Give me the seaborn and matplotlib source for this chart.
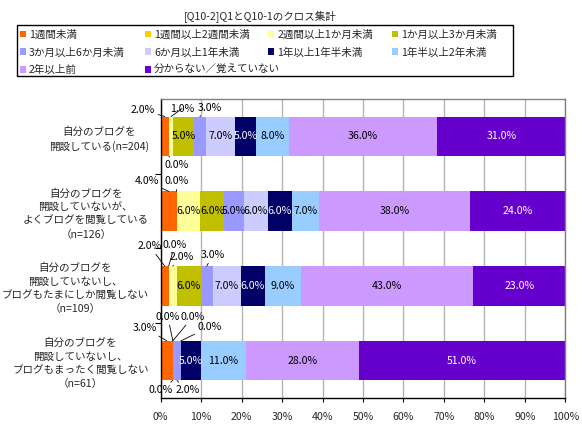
import numpy as np
import pandas as pd
import matplotlib.pyplot as plt
import seaborn as sns
from matplotlib.patches import Patch, Rectangle
from matplotlib.ticker import PercentFormatter

title = "[Q10-2]Q1とQ10-1のクロス集計"

groups = [
    "自分のブログを\n開設している(n=204)",
    "自分のブログを\n開設していないが、\nよくブログを閲覧している\n（n=126）",
    "自分のブログを\n開設していないし、\nブログもたまにしか閲覧しない\n（n=109）",
    "自分のブログを\n開設していないし、\nブログもまったく閲覧しない\n（n=61）",
]
periods = [
    "1週間未満", "1週間以上2週間未満", "2週間以上1か月未満", "1か月以上3か月未満",
    "3か月以上6か月未満", "6か月以上1年未満", "1年以上1年半未満", "1年半以上2年未満",
    "2年以上前", "分からない／覚えていない",
]

# percent of each group, in the order of periods
share_n204 = [2, 0, 1, 5, 3, 7, 5, 8, 36, 31]
share_n126 = [4, 0, 6, 6, 5, 6, 6, 7, 38, 24]
share_n109 = [2, 0, 2, 6, 3, 7, 6, 9, 43, 23]
share_n61 = [3, 0, 0, 0, 2, 0, 5, 11, 28, 51]

colors = ["#FF6600", "#FFCC00", "#FFFF99", "#C0C000", "#9999FF",
          "#CCCCFF", "#000066", "#99CCFF", "#CC99FF", "#6600CC"]
dark = {"#000066", "#6600CC"}

# small segments labelled outside the bar: (row, seg) -> pixel offset from bar edge
outside = {
    (0, 0): (-22, 7), (0, 1): (8, -9), (0, 2): (11, 8), (0, 4): (10, 9),
    (1, 0): (-22, 10), (1, 1): (0, 10),
    (2, 0): (-15, 20), (2, 1): (6, 21), (2, 2): (9, 9), (2, 4): (6, 11),
    (3, 0): (-22, 13), (3, 1): (-12, -10), (3, 2): (-5, 24), (3, 3): (20, 24),
    (3, 4): (11, -10), (3, 5): (29, 14),
}

sns.set_theme(style="white")
plt.rcParams["font.family"] = ["Noto Sans CJK JP", "DejaVu Sans"]
fs = 7.6
W, H = 582, 428

df = pd.DataFrame([share_n204, share_n126, share_n109, share_n61],
                  index=groups, columns=periods)
width = df.div(df.sum(axis=1), axis=0) * 100   # 100% stacked, like the original
cum = width.cumsum(axis=1)
start = cum - width

fig = plt.figure(figsize=(W / 100, H / 100), dpi=100)
ax = fig.add_axes([0.2761, 0.0701, 0.6952, 0.6986])
bar_h = 0.53

for i in reversed(range(len(periods))):
    sns.barplot(x=cum.iloc[:, i].values, y=groups, order=groups, orient="h",
                color=colors[i], saturation=1, width=bar_h, errorbar=None,
                linewidth=0, ax=ax)

ax.set_xlim(0, 100)
ax.set_ylim(3.5, -0.5)
ax.set_xlabel("")
ax.set_ylabel("")
ax.set_xticks(np.arange(0, 101, 10))
ax.xaxis.set_major_formatter(PercentFormatter(decimals=0))
ax.set_axisbelow(True)
ax.xaxis.grid(True, color="#b4b4b4", lw=1)

ax.tick_params(axis="x", length=3, width=0.8, color="black", direction="out",
               labelsize=fs, pad=7, bottom=True)
ax.tick_params(axis="y", which="major", length=0, labelsize=fs, pad=8.6)
ax.set_yticks([0.5, 1.5, 2.5], minor=True)
ax.tick_params(axis="y", which="minor", length=4, width=0.8, color="black",
               direction="out", left=True)
for t in ax.get_yticklabels():
    t.set_multialignment("center")
    t.set_linespacing(1.45)

for side in ["top", "right"]:
    ax.spines[side].set_color("#808080")
    ax.spines[side].set_linewidth(1)
for side in ["left", "bottom"]:
    ax.spines[side].set_color("black")
    ax.spines[side].set_linewidth(1)

# data labels
for r in range(len(groups)):
    for s in range(len(periods)):
        val = df.iloc[r, s]
        txt = f"{val:.1f}%"
        if (r, s) in outside:
            dx, dy = outside[(r, s)]
            xa = start.iloc[r, s] + width.iloc[r, s] / 2
            ya = r - bar_h / 2 if dy > 0 else r + bar_h / 2
            ax.annotate(txt, xy=(xa, ya), xytext=(dx, dy), textcoords="offset pixels",
                        ha="center", va="center", fontsize=fs, color="black",
                        arrowprops=dict(arrowstyle="-", color="black", lw=0.6,
                                        shrinkA=0, shrinkB=0))
        elif val > 0:
            xc = start.iloc[r, s] + width.iloc[r, s] / 2
            ax.text(xc, r, txt, ha="center", va="center", fontsize=fs,
                    color="white" if colors[s] in dark else "black")

fig.text(0.448, 0.963, title, ha="center", va="center", fontsize=fs)

# legend: four fixed-width columns filled row by row, inside one frame
handles = [Patch(facecolor=c, edgecolor="none") for c in colors]
col_x = [19.5, 144.5, 268, 392]
for c, x in enumerate(col_x):
    idx = list(range(c, len(periods), 4))
    leg = fig.legend([handles[i] for i in idx], [periods[i] for i in idx],
                     loc="upper left", bbox_to_anchor=(x / W, 1 - 29.5 / H),
                     bbox_transform=fig.transFigure, fontsize=fs, frameon=False,
                     handlelength=0.6, handleheight=0.6, handletextpad=0.3,
                     labelspacing=0.72, borderpad=0, borderaxespad=0)
fig.patches.append(Rectangle((17 / W, 1 - 76 / H), 496 / W, 51 / H, fill=False,
                             edgecolor="black", lw=1, transform=fig.transFigure,
                             figure=fig))

fig.savefig("out.png", dpi=100)
